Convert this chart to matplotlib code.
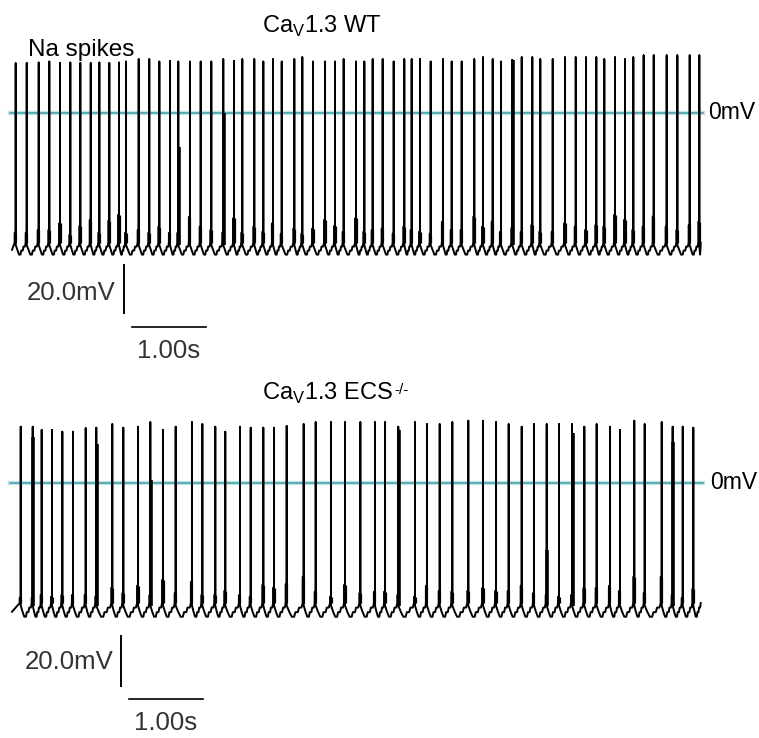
import matplotlib.pyplot as plt

plt.rcParams["font.family"] = ["Liberation Sans", "DejaVu Sans"]
plt.rcParams["mathtext.fontset"] = "custom"
plt.rcParams["mathtext.rm"] = "Liberation Sans"

# --- WT recording: spike times (s), peaks (mV), pre-spike shoulder (mV) ---
wt_spike_t = [
    0.050, 0.199, 0.361, 0.504, 0.649, 0.788, 0.923, 1.064, 1.180, 1.315, 1.446, 1.541,
    1.712, 1.855, 1.991, 2.135, 2.247, 2.405, 2.550, 2.693, 2.855, 3.000, 3.112,
    3.274, 3.396, 3.527, 3.645, 3.815, 3.923, 4.068, 4.230, 4.365, 4.482, 4.649, 4.761,
    4.874, 5.009, 5.158, 5.301, 5.401, 5.514, 5.658, 5.824, 5.942, 6.077, 6.247, 6.365,
    6.496, 6.608, 6.761, 6.888, 7.031, 7.139, 7.307, 7.473, 7.618, 7.757, 7.896, 8.004,
    8.149, 8.284, 8.396, 8.536, 8.672, 8.847, 8.991, 9.158, 9.288,
]
wt_peak_mv = [
    20.7, 20.8, 21.0, 21.4, 20.8, 21.0, 20.8, 20.8, 21.0, 20.8, 21.0, 21.4,
    22.4, 22.4, 21.4, 21.7, 21.4, 21.4, 21.4, 21.4, 22.4, 21.7, 22.4,
    22.4, 21.4, 22.4, 21.4, 22.4, 23.2, 21.4, 21.4, 21.4, 22.4, 21.4, 21.4,
    22.4, 22.4, 21.4, 22.4, 22.4, 22.4, 21.4, 22.4, 21.4, 21.4, 22.4, 23.2,
    22.4, 21.4, 22.1, 23.2, 23.2, 22.4, 22.4, 23.2, 23.2, 23.2, 23.2, 22.4,
    23.2, 22.4, 23.2, 24.0, 24.0, 24.0, 24.0, 24.0, 24.0,
]
wt_shoulder_mv = [
    -49.9, -49.9, -48.8, -48.8, -46.0, -50.8, -47.1, -44.6, -49.9, -44.9, -42.5, -49.9,
    -48.8, -49.9, -47.4, -49.9, -50.0, -43.2, -47.4, -48.8, -49.9, -43.9, -49.9,
    -47.4, -49.5, -46.0, -50.3, -48.2, -50.3, -48.2, -44.6, -47.1, -49.5, -43.9, -49.5,
    -48.8, -48.2, -50.3, -47.4, -48.8, -49.5, -50.3, -45.3, -48.8, -48.8, -43.2, -47.4,
    -45.3, -49.5, -48.0, -49.5, -46.7, -49.5, -49.5, -46.0, -47.4, -48.8, -46.7, -47.4,
    -42.5, -44.6, -48.8, -47.4, -43.2, -47.4, -48.8, -46.7, -45.3,
]
# spikes with a slow repolarisation: index and level where the downstroke splits off
wt_broad_idx = [16, 20, 49]
wt_broad_mv = [-14.2, 0.0, 22.1]
wt_rest_mv, wt_trough_mv = -54.0, -59.0

# --- ECS-/- recording ---
ecs_spike_t = [
    0.118, 0.280, 0.401, 0.541, 0.680, 0.824, 0.996, 1.139, 1.355, 1.504, 1.703, 1.869,
    2.041, 2.212, 2.432, 2.572, 2.747, 2.882, 3.081,
    3.226, 3.396, 3.541, 3.712, 3.942, 4.104, 4.311, 4.500, 4.707, 4.905, 5.041, 5.220,
    5.446, 5.608, 5.780, 5.950, 6.166, 6.365,
    6.541, 6.712, 6.888, 7.054, 7.226, 7.392, 7.568, 7.734, 7.901, 8.081, 8.216, 8.409,
    8.550, 8.780, 8.928, 9.064, 9.207,
]
ecs_peak_mv = [
    22.5, 22.5, 21.2, 21.2, 20.5, 20.5, 21.9, 22.1, 23.5, 22.1, 22.5, 24.3,
    21.2, 22.5, 24.3, 23.5, 22.5, 20.5, 22.5,
    22.1, 22.1, 22.1, 22.8, 23.5, 24.3, 24.3, 24.3, 24.3, 24.3, 24.3, 22.5,
    24.3, 23.5, 23.5, 24.3, 24.9, 24.9,
    24.3, 23.5, 22.5, 23.5, 23.5, 23.5, 23.5, 22.5, 23.5, 22.5, 21.2, 24.9,
    23.5, 24.3, 22.5, 22.5, 22.1,
]
ecs_shoulder_mv = [
    -45.9, -45.9, -44.8, -45.5, -44.8, -44.8, -44.8, -45.5, -41.9, -44.1, -41.1, -45.0,
    -38.8, -44.1, -39.5, -44.8, -44.8, -43.2, -44.8,
    -45.5, -40.8, -41.9, -40.5, -37.5, -43.5, -45.5, -40.8, -44.1, -43.5, -43.5, -44.8,
    -45.5, -41.1, -43.2, -43.5, -43.2, -42.1,
    -43.2, -43.2, -41.1, -44.1, -44.8, -45.5, -44.8, -42.1, -42.1, -41.1, -43.2, -37.5,
    -44.1, -37.5, -44.8, -45.9, -42.4,
]
ecs_broad_idx = [1, 7, 11, 30, 41, 43, 51]
ecs_broad_mv = [18.5, 15.5, 1.2, 21.2, -26.8, 19.9, 16.5]
ecs_rest_mv, ecs_trough_mv = -48.0, -53.5

T_END = 9.32
PX_PER_S = 74.0
DT = 1.0 / PX_PER_S


def build_trace(times, peaks, shoulders, rest, trough):
    """Piecewise membrane trace: stepped ramp, shoulder, spike, AHP trough."""
    edges = list(times) + [T_END]
    ts, vs = [0.0], [trough + 2.0]
    for i, t0 in enumerate(times):
        d = edges[i + 1] - t0
        ts += [t0 - DT, t0 - DT, t0, t0, t0]
        vs += [rest, shoulders[i], shoulders[i], peaks[i], rest - 1.0]
        # AHP: drop to the trough, then climb back in three steps
        t_low = t0 + 0.3 * d
        ts += [t0 + 0.15 * d, t_low]
        vs += [trough + 2.0, trough]
        span = (edges[i + 1] - DT) - t_low
        for k in range(1, 4):
            lvl = trough + k / 3 * (rest - trough)
            tk = t_low + k / 3 * span
            ts += [tk - span / 3 * 0.35, tk]
            vs += [vs[-1], lvl]
    return ts, vs


fig = plt.figure(figsize=(7.59, 7.38), dpi=100)
xlim = (-12 / PX_PER_S, 747 / PX_PER_S)

panels = [
    dict(rect=[0, 0.5, 1, 0.5], ylim=(-106.67, 47.08),
         title="Ca$_\\mathregular{V}$1.3 WT", sup=None, title_y=33.6,
         spikes=(wt_spike_t, wt_peak_mv, wt_shoulder_mv),
         levels=(wt_rest_mv, wt_trough_mv), broad=(wt_broad_idx, wt_broad_mv),
         vbar=(1.514, -63.3, -83.3), hbar=(1.622, -89.2), lab20=(1.40, -75.0),
         lab1s=(2.12, -99.3), zero_x=9.41),
    dict(rect=[0, 0, 1, 0.5], ylim=(-102.0, 45.6),
         title="Ca$_\\mathregular{V}$1.3 ECS", sup="-/-", title_y=33.4,
         spikes=(ecs_spike_t, ecs_peak_mv, ecs_shoulder_mv),
         levels=(ecs_rest_mv, ecs_trough_mv), broad=(ecs_broad_idx, ecs_broad_mv),
         vbar=(1.473, -61.2, -81.2), hbar=(1.581, -86.4), lab20=(1.37, -71.6),
         lab1s=(2.07, -96.0), zero_x=9.43),
]

for p in panels:
    ax = fig.add_axes(p["rect"])
    ax.set_xlim(*xlim)
    ax.set_ylim(*p["ylim"])
    ax.set_axis_off()

    # 0 mV reference
    ax.plot([-0.03, 9.34], [0, 0], color="#c4e6ea", lw=3.2, zorder=1)
    ax.plot([-0.03, 9.34], [0, 0], color="#3a9fa8", lw=1.1, zorder=2)
    ax.text(p["zero_x"], 0.3, "0mV", fontsize=16.5, ha="left", va="center")

    times, peaks, shoulders = p["spikes"]
    rest, trough = p["levels"]
    ts, vs = build_trace(times, peaks, shoulders, rest, trough)
    ax.plot(ts, vs, color="black", lw=1.4, zorder=3)

    # thick base of each spike (upstroke and repolarisation side by side)
    ax.vlines([t - 0.5 * DT for t in times], rest, shoulders, color="black",
              lw=2.3, zorder=3)
    b_idx, b_mv = p["broad"]
    ax.vlines([times[i] + 0.7 * DT for i in b_idx], rest - 1.0, b_mv,
              color="black", lw=2.6, zorder=3)

    title = ax.text(3.378, p["title_y"], p["title"], fontsize=17, ha="left",
                    va="baseline")
    if p["sup"]:
        ax.annotate(p["sup"], xy=(1.0, 1.0), xycoords=title, xytext=(1, -2),
                    textcoords="offset points", fontsize=11, ha="left", va="top")

    # scale bars
    x, y1, y2 = p["vbar"]
    ax.plot([x, x], [y1, y2], color="black", lw=1.4)
    hx, hy = p["hbar"]
    ax.plot([hx, hx + 1.0], [hy, hy], color="black", lw=1.2)
    ax.text(*p["lab20"], "20.0mV", fontsize=18.5, color="#333333", ha="right",
            va="center")
    ax.text(*p["lab1s"], "1.00s", fontsize=18.5, color="#333333", ha="center",
            va="center")

fig.axes[0].text(0.216, 23.75, "Na spikes", fontsize=17.5, ha="left", va="baseline")

fig.savefig("out.png", dpi=100)
